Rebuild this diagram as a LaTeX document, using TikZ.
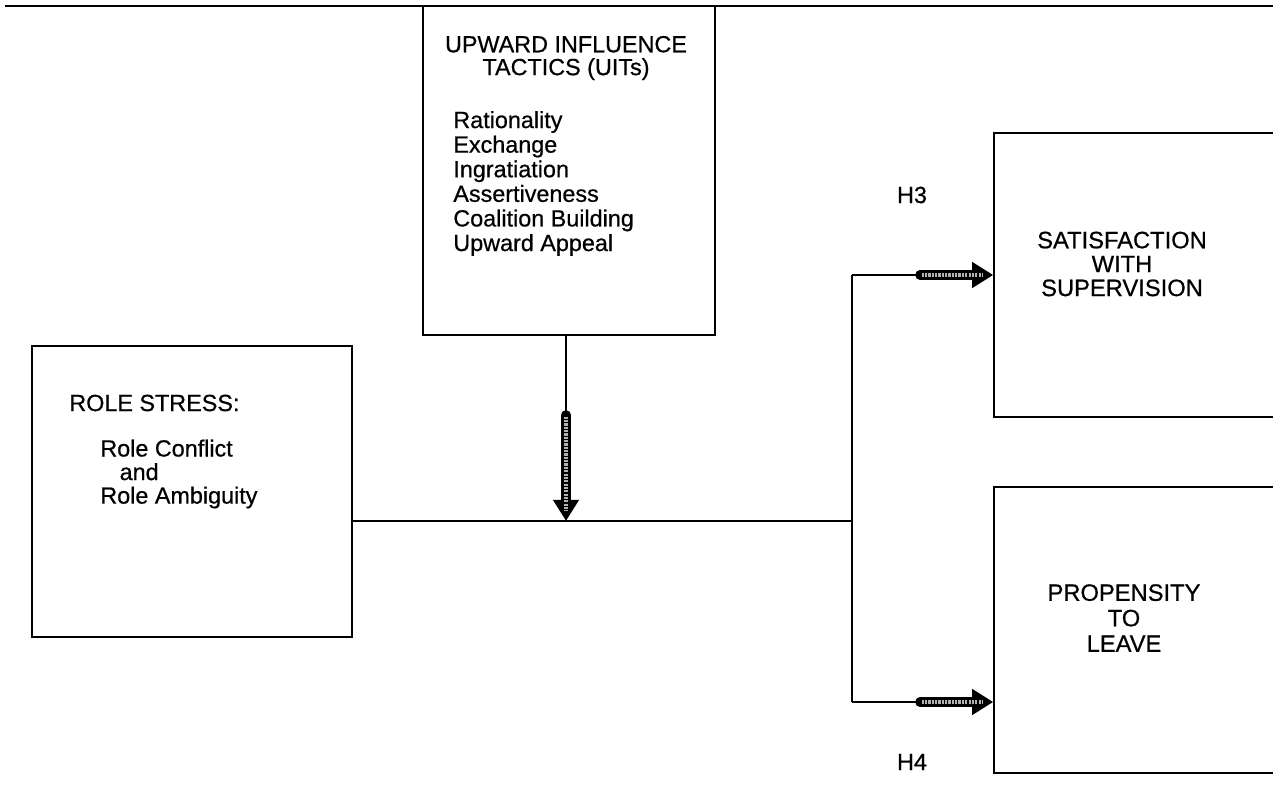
\documentclass[tikz,border=0pt]{standalone}
\usepackage{fontspec}
\setmainfont{Liberation Sans}[FakeBold=0.6]
\usepackage{tikz}
\usetikzlibrary{positioning,arrows.meta}
\newcommand{\txt}{\fontsize{13.3}{14}\selectfont}
\tikzset{
  box/.style ={draw,line width=0.8pt,inner sep=0pt},
  lbl/.style ={font=\txt,inner sep=0pt,align=center},
  ln/.style  ={line width=0.6pt},
  fat/.style ={line width=5.5pt,line cap=round,-{Triangle[length=12pt,width=14pt]}},
  fatin/.style={line width=1.8pt,black!30,dash pattern=on 1.2pt off 0.7pt,shorten >=6pt,shorten <=1pt},
}
\newcommand{\fatarrow}[2]{\draw[fat] (#1) -- (#2); \draw[fatin] (#1) -- (#2);}
\begin{document}
\begin{tikzpicture}[x=0.02cm,y=-0.02cm]
\useasboundingbox (0,0) rectangle (1273,794);
\draw[line width=1.7pt] (5,6) -- (1273,6);
\node[box,minimum width=292*0.02cm,minimum height=329*0.02cm] (uit) at (569,170.5) {};
\node[box,minimum width=320*0.02cm,minimum height=291*0.02cm] (rs) at (192,491.5) {};
\node[box,minimum width=300*0.02cm,minimum height=284*0.02cm] (sat) at (1144,275) {};
\node[box,minimum width=300*0.02cm,minimum height=286*0.02cm] (prop) at (1144,630) {};
\node[lbl,font=\fontsize{13.3}{13}\selectfont] (uitT) at (566,58) {UPWARD INFLUENCE\\TACTICS (UITs)};
\node[lbl,align=left,anchor=west] (uitL) at (453,183.5) {Rationality\\Exchange\\Ingratiation\\Assertiveness\\Coalition Building\\Upward Appeal};
\node[lbl,anchor=west] (rsT) at (69,403) {ROLE STRESS:};
\node[lbl,align=left,anchor=west,font=\fontsize{13.3}{13.4}\selectfont] (rsL) at (100,474) {Role Conflict\\\hspace*{11pt}and\\Role Ambiguity};
\node[lbl,font=\fontsize{13.5}{13.6}\selectfont] (satT) at (1122,264) {SATISFACTION\\WITH\\SUPERVISION};
\node[lbl,font=\fontsize{13.5}{14.5}\selectfont] (propT) at (1124,618) {PROPENSITY\\TO\\LEAVE};
\node[lbl] (h3) at (912,195) {H3};
\node[lbl] (h4) at (912,762) {H4};
\coordinate (j) at (852,521);
\coordinate (dtop) at (566,415);
\coordinate (dend) at (566,521);
\coordinate (u) at (852,275);
\coordinate (d) at (852,702);
\coordinate (ua) at (920,275);
\coordinate (da) at (920,702);
\coordinate (pw) at (prop.west |- d);
\draw[ln] (rs.east |- j) -- (j);
\draw[ln] (uit.south -| dtop) -- (dtop);
\draw[ln] (u) -- (d);
\draw[ln] (u) -- (ua);
\draw[ln] (d) -- (da);
\fatarrow{dtop}{dend}
\fatarrow{ua}{sat.west}
\fatarrow{da}{pw}
\end{tikzpicture}
\end{document}
